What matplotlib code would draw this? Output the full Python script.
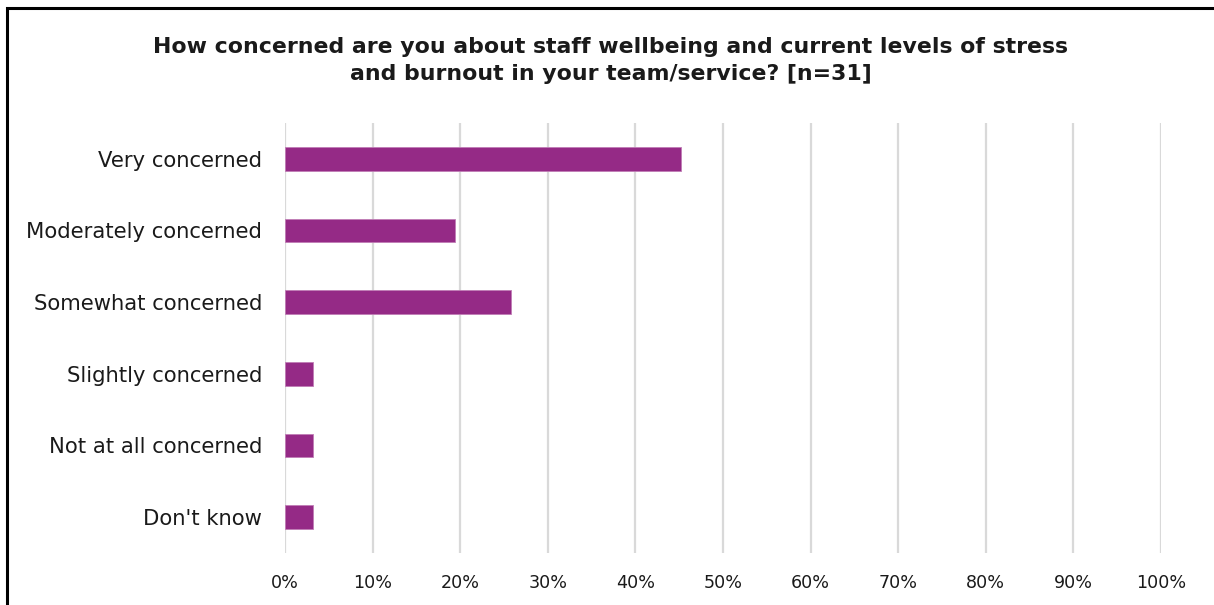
import matplotlib
matplotlib.use("Agg")
import matplotlib.pyplot as plt
from matplotlib.patches import Rectangle
from matplotlib.ticker import PercentFormatter

categories = [
    "Very concerned",
    "Moderately concerned",
    "Somewhat concerned",
    "Slightly concerned",
    "Not at all concerned",
    "Don't know",
]
counts = [14, 6, 8, 1, 1, 1]
n_total = 31
shares = [c / n_total * 100 for c in counts]
x_ticks = list(range(0, 101, 10))

title = ("How concerned are you about staff wellbeing and current levels of stress\n"
         "and burnout in your team/service? [n=31]")

plt.rcParams["font.family"] = ["DejaVu Sans"]

fig = plt.figure(figsize=(12.14, 6.05), dpi=100)
ax = fig.add_axes([0.2348, 0.086, 0.7215, 0.7107])

ypos = list(range(len(categories)))
ax.barh(ypos, shares, height=0.33, color="#952A86", edgecolor="#C07DB6",
        linewidth=0.6, zorder=3)
ax.set_ylim(len(categories) - 0.5, -0.5)
ax.set_xlim(0, 100)
ax.set_yticks(ypos)
ax.set_yticklabels(categories, fontsize=15.2, color="#1a1a1a")
ax.set_xticks(x_ticks)
ax.xaxis.set_major_formatter(PercentFormatter(decimals=0))
ax.tick_params(axis="x", labelsize=12.6, length=0, pad=15, colors="#1a1a1a")
ax.tick_params(axis="y", length=0, pad=16.5)
ax.grid(axis="x", color="#D9D9D9", linewidth=1.6, zorder=0)
for s in ax.spines.values():
    s.set_visible(False)

fig.text(0.503, 0.900, title, ha="center", va="center", fontsize=15.8,
         fontweight="bold", color="#1a1a1a", linespacing=1.38)

# outer frame of the chart area
fig.patches.append(Rectangle((7 / 1214, -0.1), 1.2, 1 - 8 / 605 + 0.1,
                             transform=fig.transFigure, fill=False,
                             edgecolor="black", linewidth=2.2))

fig.savefig("out.png", dpi=100)
